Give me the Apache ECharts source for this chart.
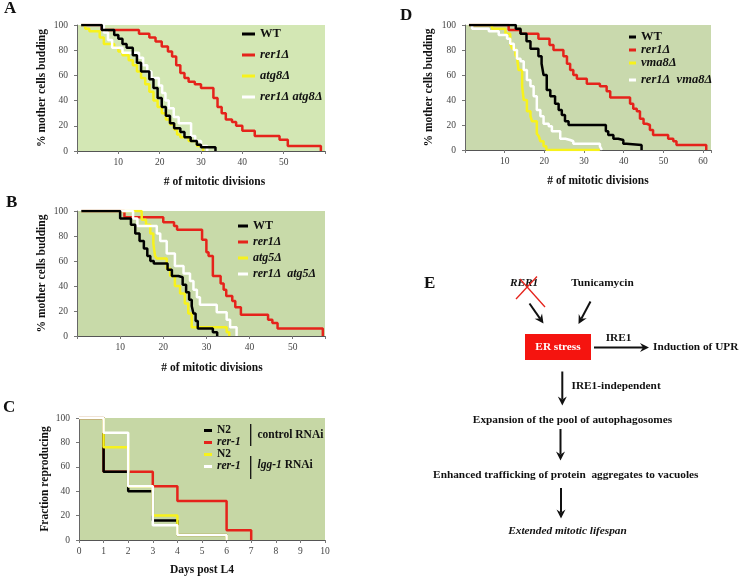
<!DOCTYPE html>
<html><head><meta charset="utf-8">
<script src="https://cdn.jsdelivr.net/npm/echarts@6/dist/echarts.min.js"></script>
<style>html,body{margin:0;padding:0;background:#fff}#c{width:740px;height:577px}</style>
</head><body><div id="c"></div>
<script>
// ---------- Panel A : # of mitotic divisions vs % mother cells budding ----------
const aWT  = [[1,100],[6,96],[9,92],[10,89],[11,85],[12,82],[13.5,76],[14.5,70],[15.5,63],[17.5,57],[18.5,50],[19.5,42],[20.5,35],[21.5,28],[22.5,22],[23.5,18],[25,15],[26,11],[27.5,8],[29,5],[30,3],[33.5,0]];
const aRer = [[1,100],[6,96],[15,93],[17.5,90],[19,87],[20.5,83],[22,79],[23,75],[24,68],[25,62],[26,58],[27,55],[28.5,53],[30,50],[33,42],[34,35],[35,30],[36,25],[37.5,23],[38.5,20],[40,16],[43,12],[49,9],[51,4],[59,0]];
const aAtg = [[1,100],[2,97],[3,95],[5.5,90],[6.5,85],[9,82],[10,79],[11,76],[12.5,72],[13.5,68],[14.5,63],[15.5,58],[16.5,53],[17.5,47],[18.5,40],[19.5,35],[20.5,30],[21.5,25],[22.5,21],[23.5,17],[24.2,13],[25,11],[27,8],[29,4],[30.5,0]];
const aDbl = [[1,100],[6.5,94],[7.5,88],[8.5,82],[11,78],[15,74],[16,68],[17,63],[18,58],[19.8,52],[20.6,46],[21.4,40],[22.2,34],[23.4,27],[24.6,22],[27.6,12],[28.6,8],[30,4],[31.5,0]];
// ---------- Panel B ----------
const bWT  = [[1,100],[10,94],[12.5,89],[13.5,82],[14.5,76],[15.5,70],[16.3,64],[17,60],[17.8,58],[21,53],[22,48],[23.5,47],[24.5,41],[25.3,35],[26,29],[26.6,24],[27,18],[27.5,12],[28,6],[31.5,3],[32.5,0]];
const bRer = [[1,100],[11,95],[20,91],[22.5,88],[23.2,85],[29,77],[30,67],[30.5,64],[31.5,48],[33.3,42],[34,37],[34.6,32],[36,28],[36.7,23],[38,17],[44.3,13],[45.3,10.5],[46.5,6],[57,0]];
const bAtg = [[1,100],[15,93],[16,89],[17,82],[17.7,74],[18.1,64],[18.5,62],[20.8,54],[21.6,48],[22.7,40],[23.9,34],[25,26],[25.8,18],[26.6,7],[34.7,3],[35.3,0]];
const bDbl = [[1,100],[13,94],[14,88],[18.5,82],[19.3,76],[20.8,66],[22.7,56],[24.7,50],[26.2,44],[27,37],[27.8,31],[28.5,25],[32.4,19],[34.7,13],[35.5,7],[37,0]];
// ---------- Panel C : Days post L4 vs Fraction reproducing ----------
const cN2ctl  = [[0,100],[1,56],[2,40],[3,16],[4,4],[6,0]];
const cRerCtl = [[0,100],[1,56],[3,44],[4,32],[6,8],[7,0]];
const cN2lgg  = [[0,100],[1,76],[2,44],[3,20],[4,4],[6,0]];
const cRerLgg = [[0,100],[1,88],[2,44],[3,12],[4,4],[6,0]];
// ---------- Panel D ----------
const dWT  = [[1,100],[12.8,97],[14,93],[15.5,87],[16.5,81],[18.5,75],[19.3,69],[19.8,60],[20.6,48],[21.5,43],[22.7,37],[23.6,32],[24.4,28],[25.2,23],[26.1,20],[35.5,15],[36.1,12],[37.4,9],[38.6,8],[39.9,5],[40.7,4],[44.5,0]];
const dRer = [[1,100],[11,96],[14,93],[18.5,89],[21.3,84],[22.3,80],[24.8,75],[25.7,69],[26.5,64],[27.3,60],[28.2,57],[30.7,53],[34,51],[35.7,47],[36.6,42],[41.6,37],[42.4,33],[43.3,31],[44.1,25],[45,21],[45.8,20],[46.6,16],[47.4,12],[51.2,9],[52.5,7],[53.3,4],[60.8,0]];
const dVma = [[1,100],[6.8,97],[10.2,93],[11.4,85],[11.9,81],[12.7,76],[13.1,74],[13.5,64],[14.4,51],[14.8,40],[15.6,31],[16.5,27],[16.9,23],[18.1,13],[18.6,11],[19,7],[19.8,3],[20.5,0],[34,0]];
const dDbl = [[1,100],[1.8,97],[6,95],[8.5,92],[10.6,89],[11.4,85],[12.3,80],[13.1,73],[14,71],[14.8,64],[15.6,56],[16.5,51],[17.3,43],[18.1,32],[19,27],[19.8,21],[21.1,19],[21.9,15],[24,9],[25.3,8],[26.5,7],[27.3,5],[34,3],[34.5,0]];

// axis settings
const xMaxes = [60, 57.5, 10, 62];
const xIntervals = [10, 10, 1, 10];
const yTicks = [0, 20, 40, 60, 80, 100];
const yNames = ['% mother cells budding', '% mother cells budding', 'Fraction reproducing', '% mother cells budding'];
const xNames = ['# of mitotic divisions', '# of mitotic divisions', 'Days post L4', '# of mitotic divisions'];

const D = '\u0394';
const FONT = "'Liberation Serif','Times New Roman',serif";
const RED = '#e5231b', YEL = '#f7f21c', BLK = '#000000', WHT = '#ffffff';

const chart = echarts.init(document.getElementById('c'), null, {renderer: 'canvas'});

const grids = [
  {left: 77, top: 25, width: 248, height: 126, bg: '#d3e7b4'},
  {left: 77, top: 211, width: 248, height: 125, bg: '#c8daa9'},
  {left: 79, top: 418, width: 246, height: 124, bg: '#c6d7a5'},
  {left: 465, top: 25, width: 246, height: 125, bg: '#c9d9ad'}
];
const yGap = [29, 28.5, 28, 29.5];
const xGap = [25, 26, 24, 25];
const xPad = [27, 22, 0, 20];

function S(name, data, color, gi, z) {
  return {name, type: 'line', step: 'end', xAxisIndex: gi, yAxisIndex: gi, data,
    showSymbol: false, symbol: 'none', color, lineStyle: {color, width: 2.5},
    z, silent: true, animation: false, emphasis: {disabled: true}};
}

const series = [
  S('A:WT', aWT, BLK, 0, 6), S('A:rer1' + D, aRer, RED, 0, 3), S('A:atg8' + D, aAtg, YEL, 0, 4), S('A:rer1' + D + ' atg8' + D, aDbl, WHT, 0, 5),
  S('B:WT', bWT, BLK, 1, 6), S('B:rer1' + D, bRer, RED, 1, 3), S('B:atg5' + D, bAtg, YEL, 1, 4), S('B:rer1' + D + '  atg5' + D, bDbl, WHT, 1, 5),
  S('C:N2', cN2ctl, BLK, 2, 4), S('C:rer-1', cRerCtl, RED, 2, 3), S('C:N2 ', cN2lgg, YEL, 2, 5), S('C:rer-1 ', cRerLgg, WHT, 2, 6),
  S('D:WT', dWT, BLK, 3, 6), S('D:rer1' + D, dRer, RED, 3, 3), S('D:vma8' + D, dVma, YEL, 3, 4), S('D:rer1' + D + '  vma8' + D, dDbl, WHT, 3, 5)
];

function legendFmt(name) {
  const t = name.slice(2).trim();
  if (t === 'WT' || t === 'N2') return t;
  return '{i|' + t + '}';
}
function L(names, left, top, w, fs, lh, gap) {
  return {data: names, orient: 'vertical', left, top, itemWidth: w, itemHeight: 3, itemGap: gap,
    icon: 'rect', selectedMode: false, padding: 0, formatter: legendFmt,
    textStyle: {fontFamily: FONT, fontWeight: 'bold', fontSize: fs, lineHeight: lh, color: '#111',
      rich: {i: {fontFamily: FONT, fontWeight: 'bold', fontStyle: 'italic', fontSize: fs, lineHeight: lh, color: '#111'}}}};
}
const legends = [
  L(['A:WT', 'A:rer1' + D, 'A:atg8' + D, 'A:rer1' + D + ' atg8' + D], 242, 27, 13, 12.5, 14, 7),
  L(['B:WT', 'B:rer1' + D, 'B:atg5' + D, 'B:rer1' + D + '  atg5' + D], 238, 219, 10, 12, 14, 2),
  L(['C:N2', 'C:rer-1', 'C:N2 ', 'C:rer-1 '], 204, 424.5, 8, 11.5, 11.5, 0),
  L(['D:WT', 'D:rer1' + D, 'D:vma8' + D], 629, 30.5, 7, 12.5, 12.5, 0),
  L(['D:rer1' + D + '  vma8' + D], 629, 73.5, 7, 12.5, 12.5, 0)
];

const xAxes = grids.map((g, i) => ({
  type: 'value', gridIndex: i, min: 0, max: xMaxes[i], interval: xIntervals[i],
  name: xNames[i], nameLocation: 'middle', nameGap: xGap[i],
  nameTextStyle: {fontFamily: FONT, fontWeight: 'bold', fontSize: 11.5, color: '#111', padding: [0, 0, 0, xPad[i]]},
  axisLine: {show: true, lineStyle: {color: '#555', width: 1}},
  axisTick: {show: true, length: 3, lineStyle: {color: '#777'}},
  splitLine: {show: false},
  axisLabel: {fontFamily: FONT, fontSize: 9.5, color: '#444', margin: 6,
    formatter: v => (i === 2 ? String(v) : ((v > 0 && v % 10 === 0 && v < xMaxes[i]) ? String(v) : ''))}
}));
const yAxes = grids.map((g, i) => ({
  type: 'value', gridIndex: i, min: 0, max: 100, interval: 20,
  name: yNames[i], nameLocation: 'middle', nameGap: yGap[i],
  nameTextStyle: {fontFamily: FONT, fontWeight: 'bold', fontSize: 11.5, color: '#111'},
  axisLine: {show: true, lineStyle: {color: '#666', width: 1}},
  axisTick: {show: true, length: 3, lineStyle: {color: '#777'}},
  splitLine: {show: false},
  axisLabel: {fontFamily: FONT, fontSize: 9.5, color: '#444', margin: 9,
    formatter: v => (yTicks.indexOf(v) >= 0 ? String(v) : '')}
}));

// ---------- graphic: panel letters, C legend brackets, panel E diagram ----------
const G = [];
const EF = 11.3;
function txt(x, y, s, o) {
  G.push({type: 'text', x, y, silent: true, z: 50, style: Object.assign({text: s, fontFamily: FONT, fontWeight: 'bold', fontSize: EF, fill: '#111', align: 'left', verticalAlign: 'middle'}, o || {})});
}
function seg(x1, y1, x2, y2, color, w) {
  G.push({type: 'line', silent: true, z: 50, shape: {x1, y1, x2, y2}, style: {stroke: color, lineWidth: w}});
}
function arrow(x1, y1, x2, y2) {
  const a = Math.atan2(y2 - y1, x2 - x1), L = 9, W = 4.5, N = 6;
  const c = Math.cos(a), s = Math.sin(a);
  seg(x1, y1, x2 - c * N, y2 - s * N, '#111', 2);
  G.push({type: 'polygon', silent: true, z: 51, shape: {points: [
    [x2, y2],
    [x2 - c * L - s * W, y2 - s * L + c * W],
    [x2 - c * N, y2 - s * N],
    [x2 - c * L + s * W, y2 - s * L - c * W]]}, style: {fill: '#111'}});
}
txt(4, 9, 'A', {fontSize: 17});
txt(6, 202.5, 'B', {fontSize: 17});
txt(3, 407.5, 'C', {fontSize: 17});
txt(400, 16, 'D', {fontSize: 17});
txt(424, 283.5, 'E', {fontSize: 17});
// C legend brackets
seg(250.7, 424, 250.7, 446, '#111', 1.3);
seg(250.7, 456, 250.7, 479, '#111', 1.3);
txt(257.5, 435, 'control RNAi', {fontSize: 11.5});
txt(257.5, 465.5, '{i|lgg-1} RNAi', {fontSize: 11.5, rich: {i: {fontFamily: FONT, fontWeight: 'bold', fontStyle: 'italic', fontSize: 11.5, fill: '#111'}}});
// Panel E
txt(510, 283.5, 'RER1', {fontStyle: 'italic'});
seg(520, 279, 545, 307, RED, 1.3);
seg(516, 299, 537, 276.5, RED, 1.3);
txt(602.5, 283, 'Tunicamycin', {align: 'center'});
arrow(529.5, 303.5, 543.5, 323.5);
arrow(590.5, 301.5, 578.5, 324);
G.push({type: 'rect', silent: true, z: 49, shape: {x: 525, y: 334, width: 66, height: 26}, style: {fill: '#f5140f'}});
txt(558, 347.5, 'ER stress', {align: 'center', fill: '#ffffff'});
txt(618.5, 338, 'IRE1', {align: 'center'});
arrow(594, 347.5, 649, 347.5);
txt(653, 347.5, 'Induction of UPR');
arrow(562.3, 371.5, 562.3, 405.5);
txt(571.5, 386, 'IRE1-independent');
txt(572.5, 420.5, 'Expansion of the pool of autophagosomes', {align: 'center'});
arrow(560.5, 429, 560.5, 460.5);
txt(565.8, 475, 'Enhanced trafficking of protein  aggregates to vacuoles', {align: 'center'});
arrow(561, 488, 561, 518.5);
txt(567.5, 531.5, 'Extended mitotic lifespan', {align: 'center', fontStyle: 'italic'});

chart.setOption({
  animation: false,
  backgroundColor: '#ffffff',
  grid: grids.map(g => ({left: g.left, top: g.top, width: g.width, height: g.height, show: true, backgroundColor: g.bg, borderWidth: 0})),
  xAxis: xAxes,
  yAxis: yAxes,
  legend: legends,
  series: series,
  graphic: G
});
</script>
</body></html>
